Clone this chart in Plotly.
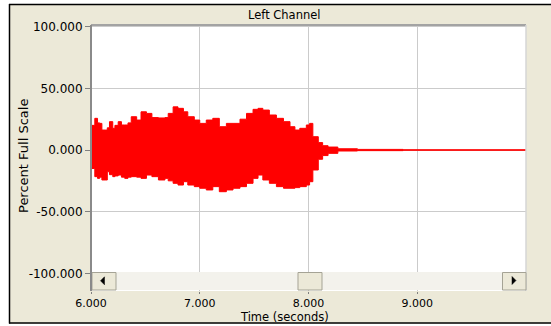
import plotly.graph_objects as go

# ---- data (envelope of the waveform, % full scale) ----
time_s = [6.000, 6.035, 6.060, 6.080, 6.100, 6.130, 6.150, 6.170, 6.200, 6.220,
          6.250, 6.280, 6.310, 6.340, 6.370, 6.420, 6.460, 6.510, 6.560, 6.620,
          6.680, 6.710, 6.755, 6.800, 6.850, 6.890, 6.950, 7.000, 7.060, 7.120,
          7.180, 7.245, 7.306, 7.370, 7.430, 7.490, 7.536, 7.580, 7.640, 7.705,
          7.770, 7.830, 7.875, 7.920, 7.980, 8.010, 8.040, 8.090, 8.130, 8.180,
          8.270, 8.450, 8.870, 10.000]
upper_pct = [20.0, 25.7, 22.0, 21.6, 16.2, 16.2, 18.0, 23.0, 17.6, 20.0,
             23.0, 20.3, 20.3, 22.0, 27.0, 24.3, 31.0, 29.7, 26.3, 26.0,
             26.3, 29.7, 35.0, 33.8, 31.0, 27.0, 24.3, 21.6, 24.3, 25.7,
             18.9, 21.6, 21.6, 25.0, 29.7, 33.0, 33.8, 32.4, 28.4, 25.7,
             23.0, 18.9, 16.2, 17.6, 20.3, 21.6, 10.8, 6.0, 3.5, 2.4,
             1.0, 0.5, 0.2, 0.2]
lower_pct = [-15.0, -21.6, -23.0, -22.0, -24.3, -24.3, -17.6, -20.0, -21.6, -21.0,
             -20.3, -22.0, -23.0, -22.0, -21.6, -22.0, -23.0, -20.3, -21.6, -24.3,
             -23.0, -25.0, -27.0, -28.4, -25.7, -28.4, -29.7, -31.0, -32.4, -29.7,
             -33.8, -32.4, -31.0, -29.7, -27.0, -23.0, -20.3, -24.3, -27.0, -29.7,
             -31.0, -31.0, -30.5, -29.7, -28.4, -25.7, -16.2, -7.5, -4.5, -2.7,
             -0.8, -0.5, -0.2, -0.2]

x_tick_vals = [6, 7, 8, 9]
x_tick_text = ["6.000", "7.000", "8.000", "9.000"]
y_tick_vals = [-100, -50, 0, 50, 100]
y_tick_text = ["-100.000", "-50.000", "0.000", "50.000", "100.000"]

# ---- layout geometry (pixels) ----
W, H = 551, 326
L, R, T, B = 91, 526, 25, 291


def px(x):
    return (x - L) / (R - L)


def py(y):
    return (B - y) / (B - T)


FONT = "DejaVu Sans"
BEIGE = "#ECE9D8"
RED = "#FF0000"

fig = go.Figure()
fig.add_trace(go.Scatter(x=time_s, y=lower_pct, mode="lines",
                         line=dict(color=RED, width=1, shape="hv"),
                         hoverinfo="skip"))
fig.add_trace(go.Scatter(x=time_s, y=upper_pct, mode="lines",
                         line=dict(color=RED, width=1, shape="hv"),
                         fill="tonexty", fillcolor=RED, hoverinfo="skip"))

shapes = []
# plot frame
shapes.append(dict(type="line", xref="paper", yref="paper", x0=0, x1=1, y0=1, y1=1,
                   line=dict(color="#A3A3A3", width=2), layer="above"))
shapes.append(dict(type="line", xref="paper", yref="paper", x0=1, x1=1, y0=0, y1=1,
                   line=dict(color="#D6D6D6", width=1.5), layer="above"))
# scrollbar
shapes.append(dict(type="rect", xref="paper", yref="paper", x0=px(92), x1=1,
                   y0=py(290), y1=py(272), fillcolor="#F3F2EC",
                   line=dict(width=0), layer="above"))
for bx0, bx1 in [(92, 116), (298, 322), (502.5, 526)]:
    shapes.append(dict(type="rect", xref="paper", yref="paper", x0=px(bx0), x1=px(bx1),
                       y0=py(290), y1=py(272.5), fillcolor=BEIGE,
                       line=dict(color="#A5A395", width=1), layer="above"))


def tri(points):
    p = "M " + " L ".join(f"{px(a):.5f},{py(b):.5f}" for a, b in points) + " Z"
    return dict(type="path", xref="paper", yref="paper", path=p, fillcolor="black",
                line=dict(color="black", width=0.5), layer="above")


shapes.append(tri([(100.5, 280.8), (104.5, 276.8), (104.5, 284.8)]))
shapes.append(tri([(516, 280.5), (512, 276.5), (512, 284.5)]))
shapes.append(dict(type="line", xref="paper", yref="paper", x0=0, x1=0, y0=0, y1=1,
                   line=dict(color="#8A8A8A", width=2), layer="above"))
# outer window frame
shapes.append(dict(type="rect", xref="paper", yref="paper", x0=px(-2), x1=px(9),
                   y0=py(-2), y1=py(330), fillcolor="white", line=dict(width=0), layer="above"))
shapes.append(dict(type="rect", xref="paper", yref="paper", x0=px(-2), x1=px(555),
                   y0=py(-2), y1=py(4), fillcolor="white", line=dict(width=0), layer="above"))
shapes.append(dict(type="rect", xref="paper", yref="paper", x0=px(-2), x1=px(555),
                   y0=py(323.5), y1=py(330), fillcolor="white", line=dict(width=0), layer="above"))
shapes.append(dict(type="line", xref="paper", yref="paper", x0=px(9.5), x1=px(9.5),
                   y0=py(4), y1=py(323.5), line=dict(color="black", width=1.5), layer="above"))
shapes.append(dict(type="line", xref="paper", yref="paper", x0=px(9), x1=px(555),
                   y0=py(4.5), y1=py(4.5), line=dict(color="black", width=1.5), layer="above"))
shapes.append(dict(type="line", xref="paper", yref="paper", x0=px(9), x1=px(555),
                   y0=py(323), y1=py(323), line=dict(color="black", width=1.5), layer="above"))

annotations = [
    dict(text="Left Channel", xref="paper", yref="paper", x=px(284.5), y=py(15),
         showarrow=False, xanchor="center", yanchor="middle",
         font=dict(family=FONT, size=11.5, color="black")),
    dict(text="Time (seconds)", xref="paper", yref="paper", x=px(284), y=py(316.5),
         showarrow=False, xanchor="center", yanchor="middle",
         font=dict(family=FONT, size=11.5, color="black")),
    dict(text="Percent Full Scale", xref="paper", yref="paper", x=px(23.5), y=py(156.5),
         showarrow=False, xanchor="center", yanchor="middle", textangle=-90,
         font=dict(family=FONT, size=13, color="black")),
]

fig.update_layout(
    width=W, height=H, autosize=False,
    margin=dict(l=L, r=W - R, t=T, b=H - B, pad=0),
    paper_bgcolor=BEIGE, plot_bgcolor="white",
    showlegend=False,
    shapes=shapes, annotations=annotations,
    xaxis=dict(range=[6, 10], tickvals=x_tick_vals, ticktext=x_tick_text,
               showgrid=True, gridcolor="#CBCBCB", gridwidth=1,
               ticks="outside", ticklen=2, tickcolor="#808080",
               zeroline=False, showline=False, fixedrange=True,
               tickfont=dict(family=FONT, size=11, color="black")),
    yaxis=dict(range=[-114.35, 101.4], tickvals=y_tick_vals, ticktext=y_tick_text,
               showgrid=True, gridcolor="#CBCBCB", gridwidth=1,
               ticks="outside", ticklen=5, tickcolor="#808080",
               zeroline=False, showline=False, fixedrange=True,
               tickfont=dict(family=FONT, size=12, color="black")),
)

fig.write_html("out.html")
